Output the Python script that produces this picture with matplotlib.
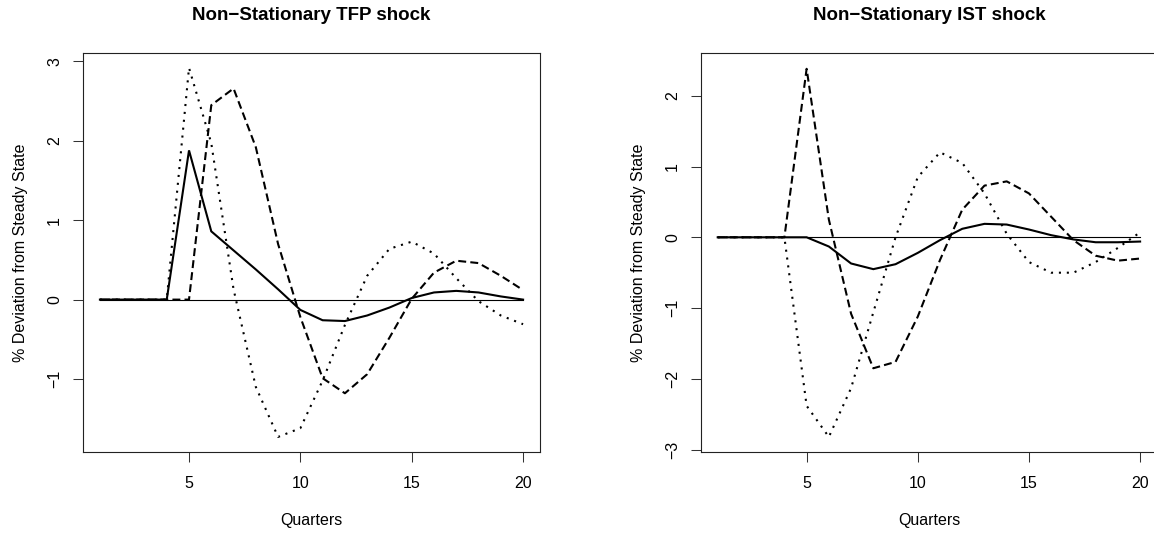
import matplotlib
matplotlib.use('Agg')
import matplotlib.pyplot as plt
import numpy as np

plt.rcParams['font.family'] = ['Liberation Sans', 'DejaVu Sans']

# Data
quarters = list(range(1, 21))

tfp_solid = [0, 0, 0, 0, 1.88, 0.86, 0.62, 0.38, 0.13, -0.13, -0.26, -0.27, -0.20, -0.10,
             0.02, 0.09, 0.11, 0.09, 0.04, 0.0]
tfp_dashed = [0, 0, 0, 0, 0, 2.45, 2.66, 1.92, 0.70, -0.22, -0.99, -1.18, -0.94, -0.48,
              0.01, 0.34, 0.49, 0.46, 0.30, 0.12]
tfp_dotted = [0, 0, 0, 0, 2.92, 1.97, 0.13, -1.10, -1.73, -1.62, -1.02, -0.32, 0.30, 0.64,
              0.73, 0.58, 0.27, -0.02, -0.20, -0.31]

ist_solid = [0, 0, 0, 0, 0, -0.13, -0.37, -0.45, -0.38, -0.22, -0.04, 0.12, 0.19, 0.18,
             0.11, 0.03, -0.03, -0.07, -0.07, -0.06]
ist_dashed = [0, 0, 0, 0, 2.38, 0.25, -1.08, -1.85, -1.76, -1.12, -0.32, 0.39, 0.73, 0.79,
              0.62, 0.29, -0.04, -0.26, -0.33, -0.30]
ist_dotted = [0, 0, 0, 0, -2.38, -2.82, -2.13, -1.06, 0.0, 0.85, 1.20, 1.05, 0.62, 0.05,
              -0.35, -0.50, -0.50, -0.35, -0.15, 0.07]

zero_line = [0] * 20

panels = [
    ('Non\u2212Stationary TFP shock', tfp_solid, tfp_dashed, tfp_dotted,
     [-1, 0, 1, 2, 3], (-1.92, 3.107), [83 / 1154, 81 / 533, 457 / 1154, 399 / 533]),
    ('Non\u2212Stationary IST shock', ist_solid, ist_dashed, ist_dotted,
     [-3, -2, -1, 0, 1, 2], (-3.037, 2.599), [700.8 / 1154, 80.7 / 533, 456.2 / 1154, 399 / 533]),
]

fig = plt.figure(figsize=(11.54, 5.33), dpi=100)

for title, solid, dashed, dotted, yt, ylim, pos in panels:
    ax = fig.add_axes(pos)
    ax.plot(quarters, zero_line, color='black', lw=0.8)
    ax.plot(quarters, solid, color='black', lw=1.5, solid_joinstyle='miter')
    ax.plot(quarters, dashed, color='black', lw=1.5, linestyle=(0, (3.8, 2.0)))
    ax.plot(quarters, dotted, color='black', lw=1.5, linestyle=(0, (1.0, 2.8)))

    ax.set_xlim(0.24, 20.76)
    ax.set_ylim(*ylim)
    ax.set_xticks([5, 10, 15, 20])
    ax.set_yticks(yt)
    ax.set_yticklabels([str(v).replace('-', '\u2212') for v in yt], rotation=90, va='center')
    ax.tick_params(length=7, width=0.75, labelsize=11.5, color='#333333')
    ax.tick_params(axis='x', pad=10)
    ax.tick_params(axis='y', pad=8)
    for s in ax.spines.values():
        s.set_linewidth(0.8)
        s.set_color('#222222')

    cx = pos[0] + pos[2] / 2
    if cx > 0.6:
        cx = (700.8 + 1157) / 2 / 1154
    fig.text(cx, 1 - 15 / 533, title, ha='center', va='center', fontsize=13.5, fontweight='bold')
    fig.text(cx, 1 - 520 / 533, 'Quarters', ha='center', va='center', fontsize=11.5)
    fig.text(pos[0] - 62 / 1154, pos[1] + pos[3] / 2, '% Deviation from Steady State',
             ha='center', va='center', rotation=90, fontsize=11.5)

plt.savefig('out.png', dpi=100)
